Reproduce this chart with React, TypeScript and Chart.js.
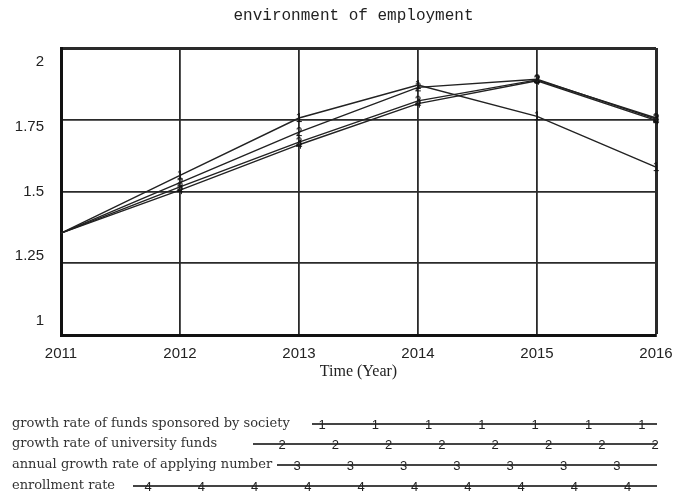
import React, { useEffect, useRef } from 'react';
import { Chart, registerables } from 'chart.js';

Chart.register(...registerables);

const years = ['2011', '2012', '2013', '2014', '2015', '2016'];
const yTicks = [1, 1.25, 1.5, 1.75, 2];
const society = [1.355, 1.556, 1.756, 1.871, 1.762, 1.585];
const university = [1.355, 1.531, 1.707, 1.863, 1.891, 1.752];
const applying = [1.355, 1.516, 1.672, 1.816, 1.889, 1.756];
const enrollment = [1.355, 1.505, 1.663, 1.806, 1.886, 1.748];
const seriesNames = [
  'growth rate of funds sponsored by society',
  'growth rate of university funds',
  'annual growth rate of applying number',
  'enrollment rate',
];
const seriesMarks = ['1', '2', '3', '4'];
const chartTitle = 'environment of employment';
const xTitle = 'Time (Year)';

// legend styling (decoration positions)
const legendRowY = [424, 444, 465, 486];
const legendLineStart = [312, 253, 277, 133];
const legendFirstMark = [322, 282, 297, 148];
const legendMarkStep = 53.3;
const legendLineEnd = 657;

function makeMarker(d: string): HTMLCanvasElement {
  const c = document.createElement('canvas');
  c.width = 10;
  c.height = 16;
  const g = c.getContext('2d')!;
  g.font = '12px "Liberation Sans", Arial, sans-serif';
  g.fillStyle = '#111';
  g.textAlign = 'center';
  g.textBaseline = 'middle';
  g.fillText(d, 5, 8.5);
  return c;
}

const decorPlugin = {
  id: 'decor',
  afterDraw(chart: any) {
    const { ctx, chartArea, scales } = chart;
    ctx.save();
    // title
    ctx.font = '16px "Liberation Mono", monospace';
    ctx.fillStyle = '#222';
    ctx.textAlign = 'center';
    ctx.textBaseline = 'middle';
    ctx.fillText(chartTitle, (chartArea.left + chartArea.right) / 2 - 5, 16);

    // y tick labels (Vensim-like compressed placement)
    const ys = scales.y;
    const c = ys.getPixelForValue(1.5);
    ctx.font = '15px "Liberation Sans", Arial, sans-serif';
    ctx.fillStyle = '#222';
    ctx.textAlign = 'right';
    yTicks.forEach((v) => {
      const p = ys.getPixelForValue(v);
      ctx.fillText(String(v), chartArea.left - 17, c + (p - c) * 0.9);
    });

    // legend
    for (let i = 0; i < seriesNames.length; i++) {
      const y = legendRowY[i];
      ctx.font = '13px "DejaVu Serif", serif';
      ctx.fillStyle = '#333';
      ctx.textAlign = 'left';
      ctx.textBaseline = 'middle';
      ctx.fillText(seriesNames[i], 12, y);
      ctx.strokeStyle = '#444';
      ctx.lineWidth = 2;
      ctx.beginPath();
      ctx.moveTo(legendLineStart[i], y);
      ctx.lineTo(legendLineEnd, y);
      ctx.stroke();
      ctx.font = '13px "Liberation Sans", Arial, sans-serif';
      ctx.fillStyle = '#222';
      ctx.textAlign = 'center';
      for (let x = legendFirstMark[i]; x <= legendLineEnd + 1; x += legendMarkStep) {
        ctx.fillText(seriesMarks[i], x, y + 1);
      }
    }
    ctx.restore();
  },
};

export default function App() {
  const ref = useRef<HTMLCanvasElement | null>(null);
  useEffect(() => {
    document.body.style.margin = '0';
    const canvas = ref.current!;
    const markers = seriesMarks.map(makeMarker);
    const values = [society, university, applying, enrollment];
    const chart = new Chart(canvas, {
      type: 'line',
      data: {
        labels: years,
        datasets: values.map((v, i) => ({
          label: seriesNames[i],
          data: v,
          borderColor: '#222',
          borderWidth: 1.4,
          pointStyle: markers[i] as any,
          pointRadius: (ctx: any) => (ctx.dataIndex === 0 ? 0 : 4),
          fill: false,
          tension: 0,
        })),
      },
      options: {
        animation: false,
        responsive: false,
        layout: { padding: { top: 48, right: 32, bottom: 115, left: 0 } },
        plugins: {
          legend: { display: false },
          tooltip: { enabled: false },
          title: { display: false },
        },
        scales: {
          x: {
            type: 'category',
            offset: false,
            grid: {
              color: '#2a2a2a',
              lineWidth: (ctx: any) => (ctx.index === years.length - 1 ? 3 : 1.8),
              drawTicks: false,
            },
            border: { display: true, color: '#111', width: 3 },
            ticks: {
              font: { family: '"Liberation Sans", Arial, sans-serif', size: 15 },
              color: '#222',
              padding: 10,
              maxRotation: 0,
              autoSkip: false,
            },
            title: {
              display: true,
              text: xTitle,
              font: { family: '"Liberation Serif", serif', size: 16 },
              color: '#222',
              padding: { top: 0, bottom: 2 },
            },
            afterFit: (s: any) => {
              s.height = 48;
            },
          },
          y: {
            min: 1,
            max: 2,
            afterBuildTicks: (s: any) => {
              s.ticks = yTicks.map((v) => ({ value: v }));
            },
            grid: {
              color: '#2a2a2a',
              lineWidth: (ctx: any) => (ctx.tick && ctx.tick.value === 2 ? 3 : 1.8),
              drawTicks: false,
            },
            border: { display: true, color: '#111', width: 3 },
            ticks: { display: false },
            afterFit: (s: any) => {
              s.width = 61;
            },
          },
        },
      },
      plugins: [decorPlugin],
    });
    return () => chart.destroy();
  }, []);
  return <canvas ref={ref} width={688} height={498} style={{ display: 'block' }} />;
}
